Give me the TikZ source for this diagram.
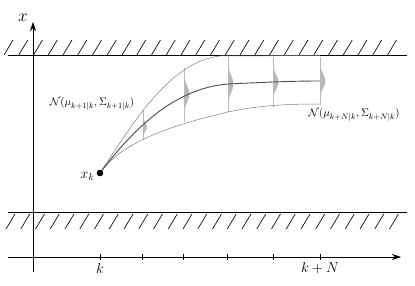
\documentclass[tikz,border=0pt]{standalone}
\usetikzlibrary{arrows.meta}
\newcommand\bellshape[5]{% x, top, bottom, mean, amplitude
  \fill[bellfill] plot[domain=#2:#3,samples=50,smooth] ({#1+#5*exp(-((\x-#4)/((#3-#2)/5))^2)},{\x}) -- (#1,#3) -- (#1,#2) -- cycle;
  \draw[bellfill,line width=0.4pt] (#1,#2) -- (#1,#3);
}
\begin{document}
\begin{tikzpicture}[x=1pt,y=-1pt,
  wall/.style={line width=0.9pt,black},
  hatch/.style={line width=0.65pt,black},
  axis/.style={line width=0.75pt,black,-{Stealth[length=9pt,width=6pt]}},
  bellfill/.style={gray!55},
  meancurve/.style={line width=0.9pt,black!70},
  boundcurve/.style={line width=0.5pt,black!50},
  axislabel/.style={font=\fontsize{14}{16}\selectfont},
  distlabel/.style={font=\fontsize{11.3}{13}\selectfont}]
\useasboundingbox (0,0) rectangle (415,286);
% walls
\coordinate (tw1) at (8,55); \coordinate (tw2) at (407,55);
\coordinate (bw1) at (8,212); \coordinate (bw2) at (407,212);
\draw[wall] (tw1) -- (tw2);
\draw[wall] (bw1) -- (bw2);
\foreach \i in {0,...,26}{
  \draw[hatch] ({4+14.75*\i},55) -- ++(9,-15);
  \draw[hatch] ({6+14.75*\i},229) -- ++(9,-15);
}
% axes
\coordinate (xa0) at (33,272); \coordinate (xa1) at (33,22);
\coordinate (ta0) at (8,257); \coordinate (ta1) at (401,257);
\draw[axis] (xa0) -- (xa1);
\draw[axis] (ta0) -- (ta1);
\node[font=\fontsize{16}{18}\selectfont] (xlab) at (23,18) {$x$};
\foreach \t in {100,142,183,227,273,320}{
  \draw[line width=0.6pt] (\t,254) -- (\t,260);
}
\node[axislabel] (klab) at (100,268) {$k$};
\node[axislabel] (kNlab) at (320,268) {$k+N$};
% distributions
\bellshape{143}{110}{140}{127}{4}
\bellshape{184}{68}{122}{94}{5.5}
\bellshape{228}{56}{112}{84}{5.5}
\bellshape{273}{57}{107}{82}{5.5}
\bellshape{320}{57}{105}{81}{5.5}
% curves
\coordinate (xk) at (100,173);
\draw[boundcurve] (xk) .. controls (135,120) and (170,62) .. (220,56) -- (320,55.5);
\draw[boundcurve] (xk) .. controls (120,145) and (160,128) .. (228,112) .. controls (260,105) and (290,104) .. (320,104);
\draw[meancurve] (xk) .. controls (140,120) and (180,88) .. (228,84) .. controls (260,82.5) and (290,81) .. (320,81);
\fill (xk) circle (3.3);
\node[axislabel,anchor=east] (xklab) at (98,176) {$x_k$};
\node[distlabel] (n1) at (92,104) {$\mathcal{N}(\mu_{k+1|k},\Sigma_{k+1|k})$};
\node[distlabel] (n2) at (354,115) {$\mathcal{N}(\mu_{k+N|k},\Sigma_{k+N|k})$};
\end{tikzpicture}
\end{document}
